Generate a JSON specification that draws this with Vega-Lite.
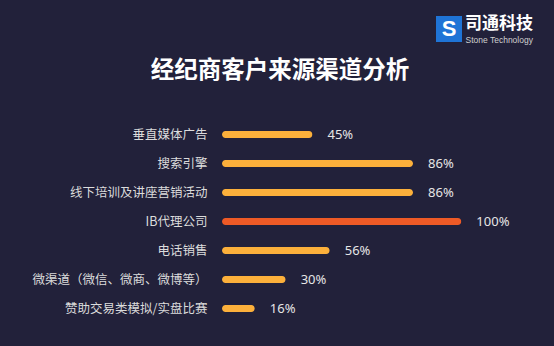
{
  "$schema": "https://vega.github.io/schema/vega-lite/v6.json",
  "autosize": {"type": "none"},
  "width": 332,
  "height": 203,
  "padding": {"left": 222, "top": 120, "right": 0, "bottom": 23},
  "background": "#22213a",
  "title": {
    "text": "经纪商客户来源渠道分析",
    "anchor": "middle",
    "dx": -108,
    "dy": 90,
    "offset": 0,
    "baseline": "bottom",
    "fontSize": 23.5,
    "fontWeight": "bold",
    "color": "#ffffff",
    "font": "Noto Sans CJK SC"
  },
  "config": {
    "view": {"stroke": null},
    "font": "Noto Sans CJK SC"
  },
  "data": {
    "values": [
      {"channel": "垂直媒体广告", "bar": 37.8, "label": "45%", "ib": false},
      {"channel": "搜索引擎", "bar": 79.8, "label": "86%", "ib": false},
      {"channel": "线下培训及讲座营销活动", "bar": 79.8, "label": "86%", "ib": false},
      {"channel": "IB代理公司", "bar": 100, "label": "100%", "ib": true},
      {"channel": "电话销售", "bar": 45, "label": "56%", "ib": false},
      {"channel": "微渠道（微信、微商、微博等）", "bar": 26.6, "label": "30%", "ib": false},
      {"channel": "赞助交易类模拟/实盘比赛", "bar": 13.7, "label": "16%", "ib": false}
    ]
  },
  "encoding": {
    "y": {
      "field": "channel",
      "type": "nominal",
      "sort": null,
      "scale": {"paddingInner": 0, "paddingOuter": 0},
      "axis": {
        "title": "Stone Technology",
        "titleAngle": 0,
        "titleX": 243,
        "titleY": -81,
        "titleAlign": "left",
        "titleBaseline": "middle",
        "titleFontSize": 8.5,
        "titleFontWeight": "normal",
        "titleColor": "#d0d0d0",
        "titleFont": "Liberation Sans",
        "ticks": false,
        "domain": false,
        "labelPadding": 15,
        "labelFontSize": 12.5,
        "labelColor": "#dcdcdc",
        "labelFont": "Noto Sans CJK SC"
      }
    },
    "x": {
      "field": "bar",
      "type": "quantitative",
      "scale": {"domain": [0, 138.7], "nice": false},
      "axis": null
    }
  },
  "layer": [
    {
      "mark": {"type": "bar", "size": 7, "cornerRadius": 3.5},
      "encoding": {
        "color": {
          "condition": {"test": "datum.ib", "value": "#ee5a26"},
          "value": "#fcb03b"
        }
      }
    },
    {
      "mark": {"type": "text", "align": "left", "baseline": "middle", "dx": 15, "fontSize": 13, "font": "Noto Sans", "color": "#e6e6e6"},
      "encoding": {
        "text": {"field": "label"}
      }
    },
    {
      "mark": {"type": "text"},
      "encoding": {
        "text": {"value": ""},
        "color": {
          "datum": "S",
          "scale": {"range": ["#1f74d6"]},
          "legend": {
            "orient": "none",
            "legendX": 214,
            "legendY": -104,
            "padding": 0,
            "symbolType": "square",
            "symbolSize": 676,
            "symbolStrokeWidth": 0,
            "symbolOpacity": 1,
            "labelColor": "#ffffff",
            "labelFontSize": 22,
            "labelFontWeight": "bold",
            "labelFont": "Liberation Sans",
            "labelAlign": "center",
            "labelOffset": -13,
            "title": "司通科技",
            "titleOrient": "right",
            "titleAnchor": "start",
            "titleColor": "#ffffff",
            "titleFontSize": 17,
            "titleFontWeight": "bold",
            "titleFont": "Noto Sans CJK SC",
            "titlePadding": 3,
            "titleBaseline": "top"
          }
        }
      }
    }
  ]
}
